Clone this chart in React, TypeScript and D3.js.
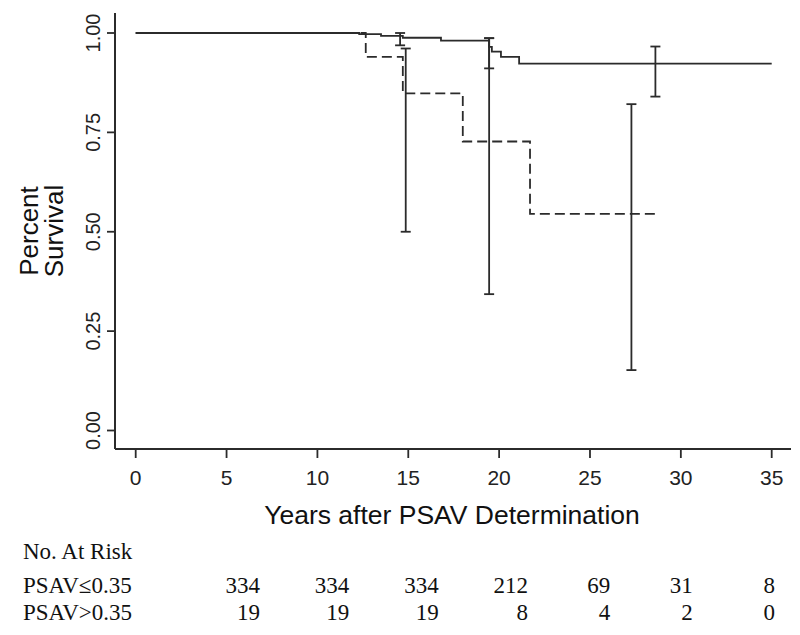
import React from "react";
import * as d3 from "d3";

// ---- data ----
const xTicks = [0, 5, 10, 15, 20, 25, 30, 35];
const yTicks = [0, 0.25, 0.5, 0.75, 1.0];

// PSAV <= 0.35 (solid) Kaplan-Meier steps
const lowTimes = [0, 12.3, 13.5, 14.7, 16.8, 19.45, 19.6, 20.1, 21.1, 35];
const lowSurv = [1.0, 0.997, 0.993, 0.988, 0.981, 0.965, 0.953, 0.94, 0.923, 0.923];

// PSAV > 0.35 (dashed) Kaplan-Meier steps
const highTimes = [0, 12.66, 14.7, 18.0, 21.7, 28.65];
const highSurv = [1.0, 0.94, 0.848, 0.727, 0.545, 0.545];

// confidence interval bars
const lowCiTimes = [14.55, 19.45, 28.6];
const lowCiLo = [0.969, 0.911, 0.84];
const lowCiHi = [1.0, 0.987, 0.966];

const highCiTimes = [14.86, 19.45, 27.28];
const highCiLo = [0.5, 0.343, 0.152];
const highCiHi = [0.961, 0.987, 0.821];

// number at risk table
const riskTitle = "No. At Risk";
const groupLabels = ["PSAV\u22640.35", "PSAV>0.35"];
const riskLow = [334, 334, 334, 212, 69, 31, 8];
const riskHigh = [19, 19, 19, 8, 4, 2, 0];

const xTitle = "Years after PSAV Determination";
const yTitleLines = ["Percent", "Survival"];

export default function App() {
  const W = 800;
  const H = 635;
  const x = d3.scaleLinear().domain([0, 35]).range([135.7, 771.7]);
  const y = d3.scaleLinear().domain([0, 1]).range([430.5, 33]);
  const axisX = 115;
  const axisY = 449;
  const ink = "#2b2b2b";
  const sans = "'Liberation Sans', Arial, sans-serif";
  const serif = "'Liberation Serif', 'Times New Roman', serif";

  const line = d3
    .line<[number, number]>()
    .x((d) => x(d[0]))
    .y((d) => y(d[1]))
    .curve(d3.curveStepAfter);

  const lowPath = line(lowTimes.map((t, i) => [t, lowSurv[i]] as [number, number])) || "";
  const highPath = line(highTimes.map((t, i) => [t, highSurv[i]] as [number, number])) || "";

  const n = riskLow.length - 1;
  const col = d3.scaleLinear().domain([0, n / 2, n]).range([260, 528, 775]);

  const ciBars = (times: number[], lo: number[], hi: number[], key: string) =>
    times.map((t, i) => {
      const cx = x(t);
      const cw = 5;
      return (
        <g key={key + i} stroke={ink} strokeWidth={1.8}>
          <line x1={cx} x2={cx} y1={y(hi[i])} y2={y(lo[i])} />
          <line x1={cx - cw} x2={cx + cw} y1={y(hi[i])} y2={y(hi[i])} />
          <line x1={cx - cw} x2={cx + cw} y1={y(lo[i])} y2={y(lo[i])} />
        </g>
      );
    });

  return (
    <div style={{ position: "absolute", left: 0, top: 0 }}>
      <svg width={W} height={H} style={{ display: "block", background: "#fff" }}>
        {/* axes */}
        <line x1={axisX} x2={axisX} y1={13} y2={axisY} stroke={ink} strokeWidth={2} />
        <line x1={axisX} x2={791} y1={axisY} y2={axisY} stroke={ink} strokeWidth={2} />
        {yTicks.map((v) => (
          <g key={"yt" + v}>
            <line x1={axisX - 8} x2={axisX} y1={y(v)} y2={y(v)} stroke={ink} strokeWidth={1.8} />
            <text
              transform={`translate(100,${y(v)}) rotate(-90)`}
              textAnchor="middle"
              fontFamily={sans}
              fontSize={20}
              fill="#222"
            >
              {d3.format(".2f")(v)}
            </text>
          </g>
        ))}
        {xTicks.map((v) => (
          <g key={"xt" + v}>
            <line x1={x(v)} x2={x(v)} y1={axisY} y2={axisY + 9} stroke={ink} strokeWidth={1.8} />
            <text x={x(v)} y={485} textAnchor="middle" fontFamily={sans} fontSize={21} fill="#222">
              {v}
            </text>
          </g>
        ))}
        {/* axis titles */}
        <text x={452} y={524} textAnchor="middle" fontFamily={sans} fontSize={26.5} fill="#111">
          {xTitle}
        </text>
        {yTitleLines.map((s, i) => (
          <text
            key={s}
            transform={`translate(${38 + i * 25},231) rotate(-90)`}
            textAnchor="middle"
            fontFamily={sans}
            fontSize={26}
            fill="#111"
          >
            {s}
          </text>
        ))}

        {/* curves */}
        <path d={highPath} fill="none" stroke={ink} strokeWidth={1.8} strokeDasharray="10 5" />
        <path d={lowPath} fill="none" stroke={ink} strokeWidth={1.8} />
        {ciBars(lowCiTimes, lowCiLo, lowCiHi, "lc")}
        {ciBars(highCiTimes, highCiLo, highCiHi, "hc")}

        {/* risk table */}
        <text x={23} y={559} fontFamily={serif} fontSize={23} fill="#111">
          {riskTitle}
        </text>
        {[riskLow, riskHigh].map((row, r) => (
          <g key={"row" + r}>
            <text x={23} y={593 + r * 27} fontFamily={serif} fontSize={23} fill="#111">
              {groupLabels[r]}
            </text>
            {row.map((v, i) => (
              <text
                key={i}
                x={col(i)}
                y={593 + r * 27}
                textAnchor="end"
                fontFamily={serif}
                fontSize={23}
                fill="#111"
              >
                {v}
              </text>
            ))}
          </g>
        ))}
      </svg>
    </div>
  );
}
